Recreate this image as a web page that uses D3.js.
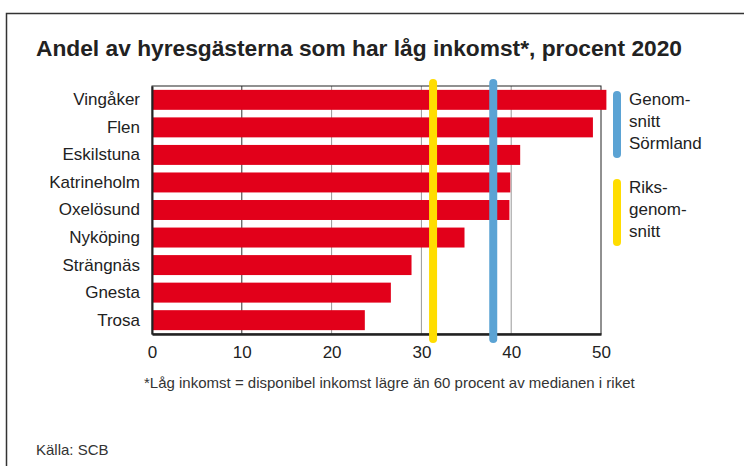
<!DOCTYPE html>
<html lang="sv">
<head>
  <meta charset="UTF-8">
  <title>Andel av hyresgästerna som har låg inkomst</title>
  <script src="https://cdn.jsdelivr.net/npm/d3@7"></script>
  <style>
    body { margin: 0; background: #fff; }
    text { font-family: "Liberation Sans", Arial, sans-serif; fill: #222; }
  </style>
</head>
<body>
<div id="chart"></div>
<script>
// data
const kommuner = ["Vingåker", "Flen", "Eskilstuna", "Katrineholm", "Oxelösund", "Nyköping", "Strängnäs", "Gnesta", "Trosa"];
const andel = [50.6, 49.1, 41.0, 39.9, 39.8, 34.8, 28.9, 26.6, 23.7];
const xTicks = [0, 10, 20, 30, 40, 50];
const snittSormland = 38.0;
const riksSnitt = 31.3;
const legendSormland = ["Genom-", "snitt", "Sörmland"];
const legendRiks = ["Riks-", "genom-", "snitt"];

const width = 744, height = 466;
const margin = { top: 86, right: 143, bottom: 132, left: 152 };
const red = "#e2001a", blue = "#5ba3d4", yellow = "#ffdd00";

const svg = d3.select("#chart").append("svg")
  .attr("width", width)
  .attr("height", height);

// frame
svg.append("path")
  .attr("d", `M6.5,${height + 2}V13.5H${width + 2}`)
  .attr("fill", "none")
  .attr("stroke", "#333")
  .attr("stroke-width", 1.5);

svg.append("text")
  .attr("x", 36)
  .attr("y", 56)
  .attr("font-size", 22)
  .attr("font-weight", "bold")
  .attr("textLength", 646)
  .attr("lengthAdjust", "spacingAndGlyphs")
  .text("Andel av hyresgästerna som har låg inkomst*, procent 2020");

const x = d3.scaleLinear()
  .domain([0, 50])
  .range([margin.left, width - margin.right]);

const y = d3.scaleBand()
  .domain(kommuner)
  .range([margin.top, height - margin.bottom])
  .paddingInner(0.275)
  .paddingOuter(0.14);

// gridlines
svg.append("g")
  .selectAll("line")
  .data(xTicks.slice(1, -1))
  .join("line")
  .attr("x1", d => x(d))
  .attr("x2", d => x(d))
  .attr("y1", margin.top)
  .attr("y2", height - margin.bottom)
  .attr("stroke", d => d === 10 ? "#333" : "#999")
  .attr("stroke-width", 1);

// plot frame
svg.append("rect")
  .attr("x", x(0))
  .attr("y", margin.top)
  .attr("width", x(50) - x(0))
  .attr("height", height - margin.bottom - margin.top)
  .attr("fill", "none")
  .attr("stroke", "#222")
  .attr("stroke-width", 1);

// bars
svg.append("g")
  .selectAll("rect")
  .data(andel)
  .join("rect")
  .attr("x", x(0))
  .attr("y", (d, i) => y(kommuner[i]))
  .attr("width", d => x(d) - x(0))
  .attr("height", y.bandwidth())
  .attr("fill", red);

// axes
const xAxis = d3.axisBottom(x)
  .tickValues(xTicks)
  .tickSize(0)
  .tickPadding(12);

const xAxisG = svg.append("g")
  .attr("transform", `translate(0,${height - margin.bottom})`)
  .call(xAxis);
xAxisG.select(".domain").attr("stroke", "#222").attr("stroke-width", 2.5);
xAxisG.selectAll("text")
  .attr("font-size", 17)
  .attr("font-family", "Liberation Sans, Arial, sans-serif")
  .attr("fill", "#222");

const yAxisG = svg.append("g")
  .attr("transform", `translate(${x(0)},0)`)
  .call(d3.axisLeft(y).tickSize(0).tickPadding(12));
yAxisG.select(".domain").attr("stroke", "#222").attr("stroke-width", 2);
yAxisG.selectAll("text")
  .attr("font-size", 17)
  .attr("font-family", "Liberation Sans, Arial, sans-serif")
  .attr("fill", "#222");

// average lines
const snitt = [{ v: riksSnitt, c: yellow }, { v: snittSormland, c: blue }];
svg.append("g")
  .selectAll("line")
  .data(snitt)
  .join("line")
  .attr("x1", d => x(d.v))
  .attr("x2", d => x(d.v))
  .attr("y1", 83)
  .attr("y2", 339)
  .attr("stroke", d => d.c)
  .attr("stroke-width", 8)
  .attr("stroke-linecap", "round");

// legend
const legend = [
  { c: blue, lines: legendSormland, y0: 95, y1: 154 },
  { c: yellow, lines: legendRiks, y0: 183, y1: 242 }
];
const lg = svg.append("g").selectAll("g").data(legend).join("g");
lg.append("line")
  .attr("x1", 617).attr("x2", 617)
  .attr("y1", d => d.y0).attr("y2", d => d.y1)
  .attr("stroke", d => d.c)
  .attr("stroke-width", 8)
  .attr("stroke-linecap", "round");
lg.append("text")
  .attr("font-size", 17)
  .selectAll("tspan")
  .data(d => d.lines.map((t, i) => ({ t, i, y: d.y0 })))
  .join("tspan")
  .attr("x", 629)
  .attr("y", d => d.y + 10 + d.i * 22)
  .text(d => d.t);

// notes
svg.append("text")
  .attr("x", 144)
  .attr("y", 388)
  .attr("font-size", 15)
  .style("fill", "#333")
  .text("*Låg inkomst = disponibel inkomst lägre än 60 procent av medianen i riket");

svg.append("text")
  .attr("x", 36)
  .attr("y", 455)
  .attr("font-size", 15)
  .style("fill", "#333")
  .text("Källa: SCB");
</script>
</body>
</html>
